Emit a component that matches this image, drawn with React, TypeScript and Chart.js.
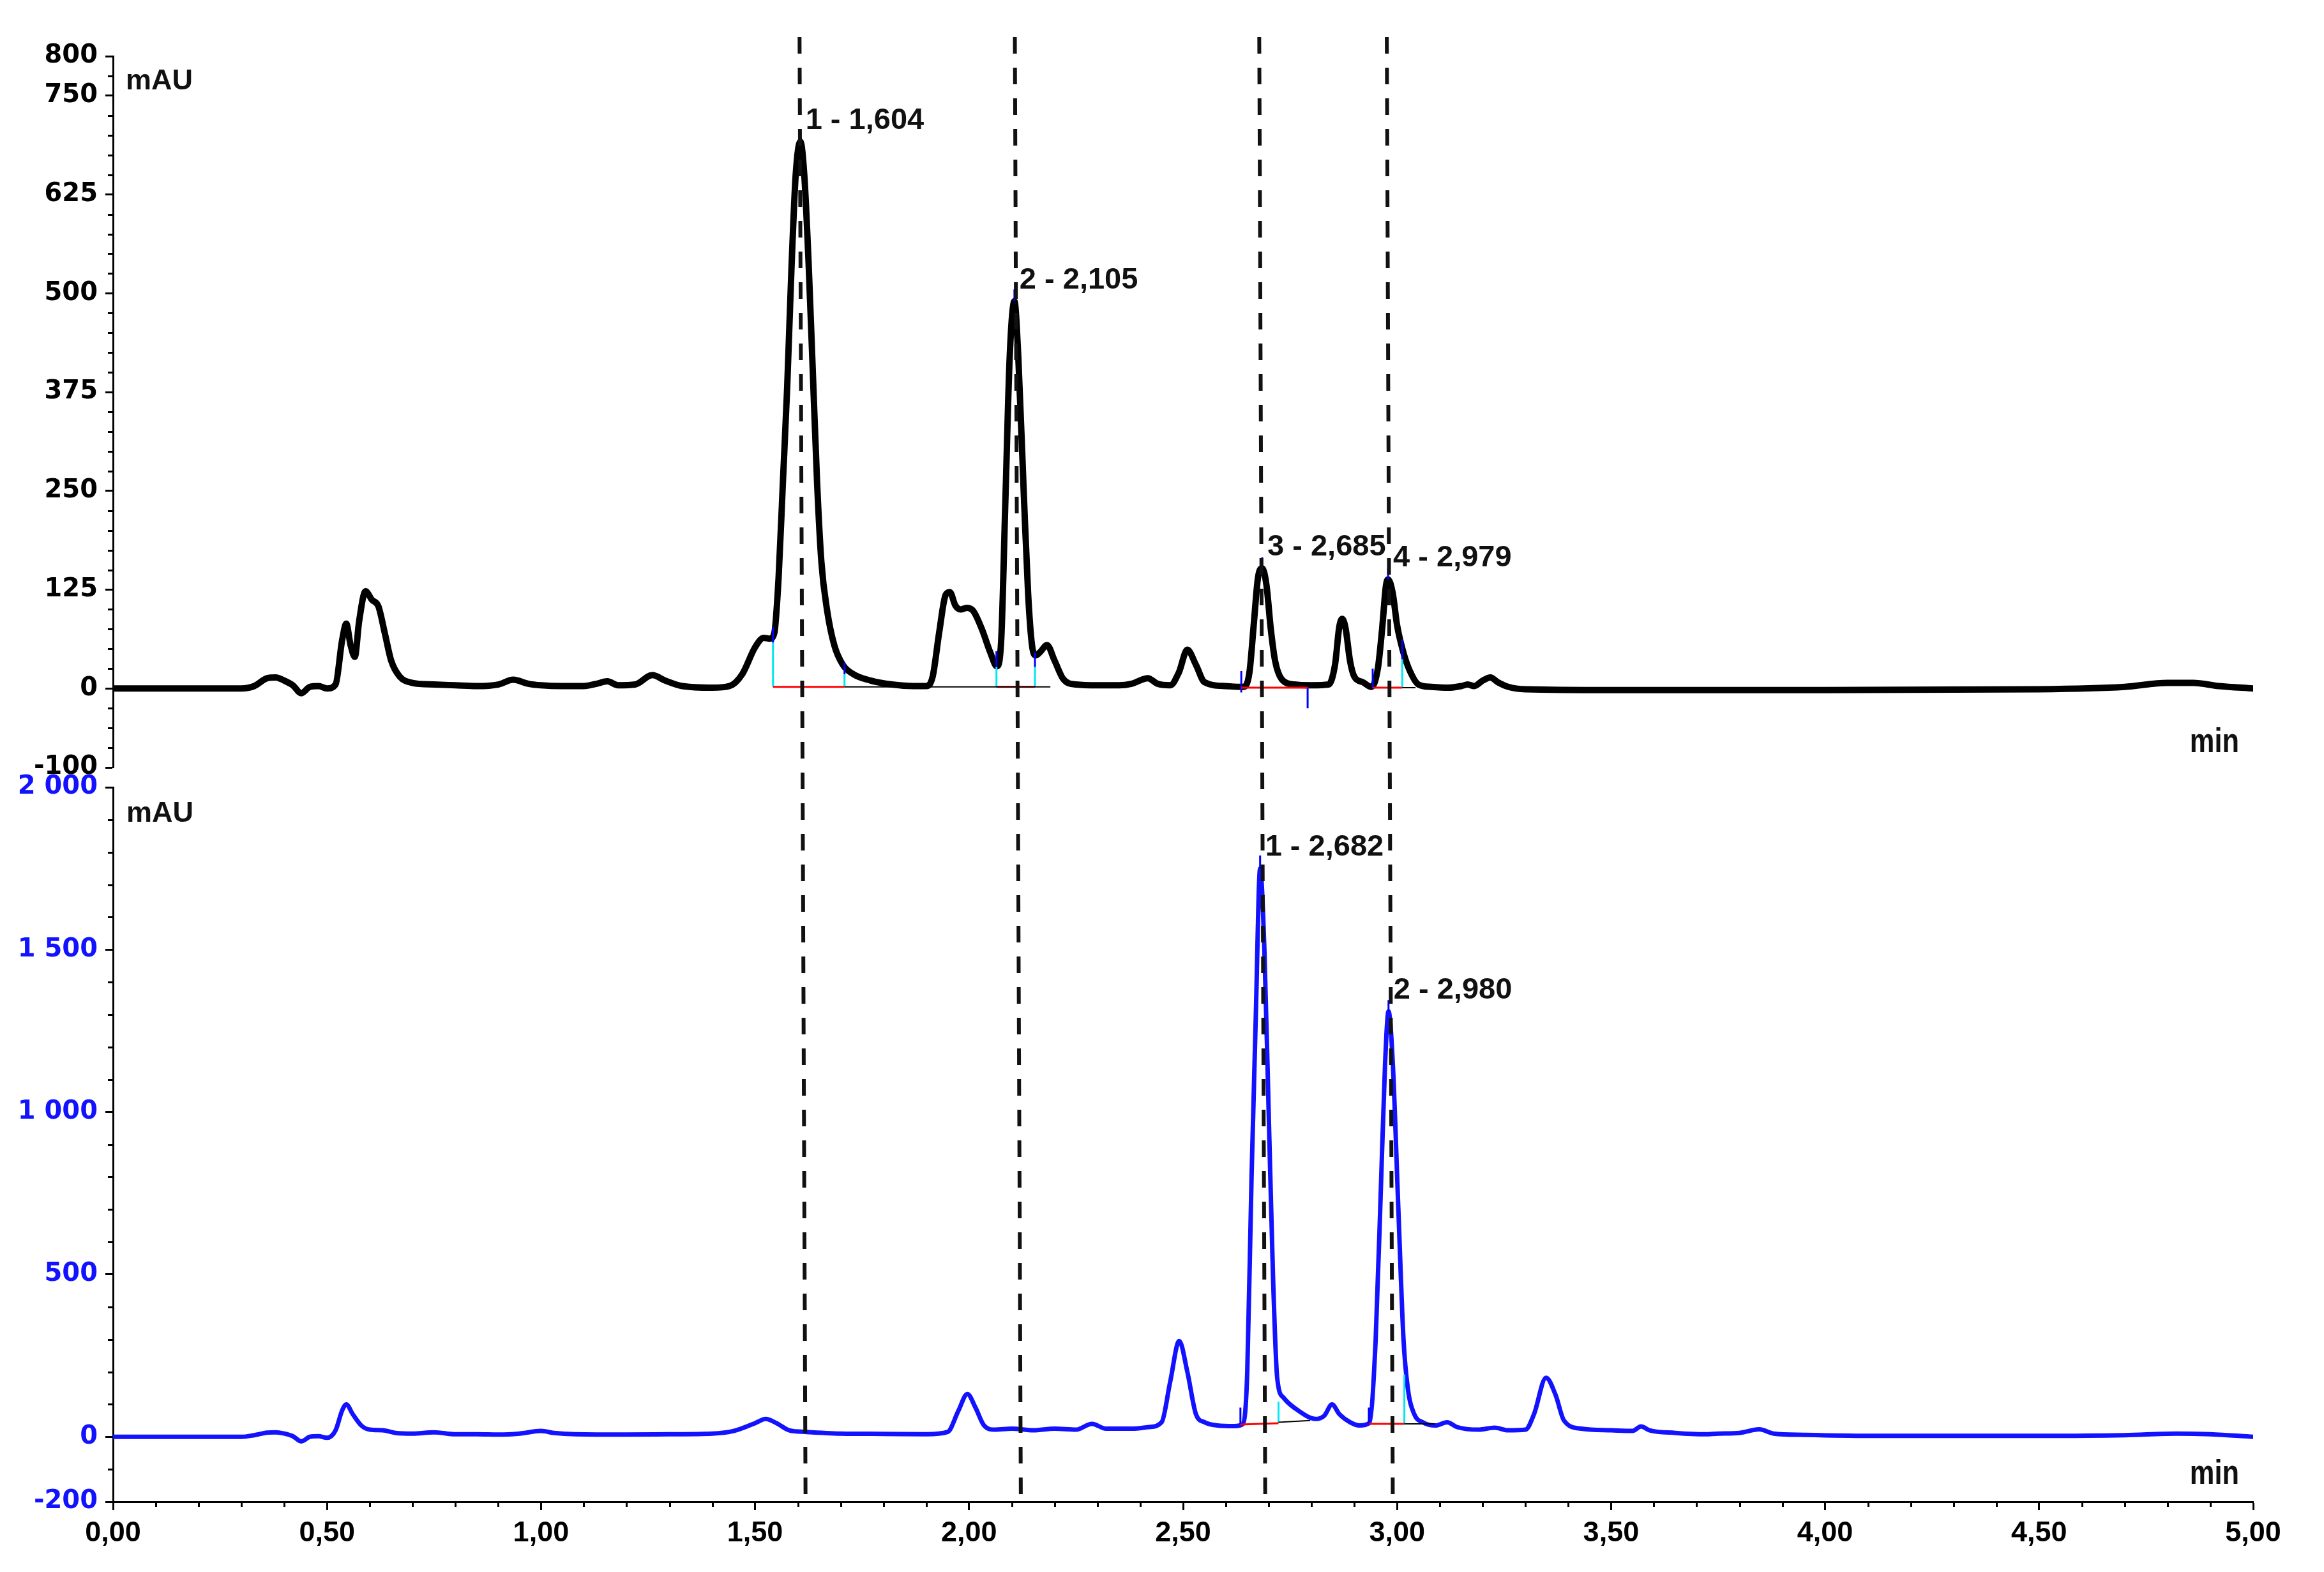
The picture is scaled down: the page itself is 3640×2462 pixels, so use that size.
import React, { useEffect, useRef } from 'react';
import { Chart, registerables } from 'chart.js';

Chart.register(...registerables);

// ---------- axes ----------
const xMin = 0;
const xMax = 5;
const xMajorTicks = [0, 0.5, 1, 1.5, 2, 2.5, 3, 3.5, 4, 4.5, 5];
const xMinorStep = 0.1;

const topMin = -100;
const topMax = 800;
const topTicks = [-100, 0, 125, 250, 375, 500, 625, 750, 800];
const topMinorStep = 25;

const botMin = -200;
const botMax = 2000;
const botTicks = [-200, 0, 500, 1000, 1500, 2000];
const botMinorStep = 100;

// ---------- top trace (black) ----------
const topTime = [
  0.0, 0.3, 0.33, 0.36, 0.38, 0.4, 0.42, 0.44, 0.46, 0.48, 0.5, 0.52, 0.535, 0.545, 0.555, 0.565, 0.575, 0.59,
  0.605, 0.62, 0.635, 0.65, 0.67, 0.7, 0.75, 0.8, 0.85, 0.9, 0.935, 0.97, 1.0, 1.05, 1.1, 1.13, 1.155, 1.18,
  1.22, 1.26, 1.29, 1.33, 1.4, 1.44, 1.47, 1.5, 1.52, 1.535, 1.545, 1.555, 1.565, 1.575, 1.585, 1.595, 1.606,
  1.615, 1.625, 1.635, 1.645, 1.655, 1.668, 1.685, 1.705, 1.73, 1.77, 1.82, 1.87, 1.9, 1.915, 1.93, 1.945,
  1.955, 1.968, 1.98, 1.995, 2.01, 2.03, 2.05, 2.065, 2.075, 2.085, 2.095, 2.106, 2.115, 2.128, 2.138, 2.147,
  2.156, 2.166, 2.182, 2.2, 2.22, 2.25, 2.3, 2.35, 2.38, 2.418, 2.44, 2.47, 2.49, 2.51, 2.53, 2.55, 2.6, 2.64,
  2.655, 2.665, 2.675, 2.685, 2.695, 2.705, 2.715, 2.73, 2.76, 2.8, 2.84, 2.855, 2.865, 2.872, 2.88, 2.89, 2.9,
  2.92, 2.94, 2.955, 2.965, 2.974, 2.979, 2.99, 3.0, 3.015, 3.03, 3.05, 3.08, 3.12, 3.15, 3.165, 3.18, 3.2,
  3.218, 3.235, 3.26, 3.3, 3.5, 4.0, 4.5, 4.7, 4.8, 4.86, 4.92, 5.0,
];
const topSignal = [
  0, 0, 3, 13, 14, 10, 4, -6, 2, 3, 0, 5, 60, 82, 55, 40, 85, 123,
  112, 104, 70, 35, 15, 7, 5, 4, 3, 5, 11, 6, 4, 3, 3, 6, 9, 4,
  5, 17, 10, 3, 1, 3, 18, 52, 64, 63, 70, 140, 260, 380, 530, 650, 692,
  650, 540, 400, 260, 160, 100, 55, 30, 18, 10, 5, 3, 3, 15, 70, 118,
  122, 105, 100, 102, 98, 75, 45, 28, 60, 240, 420, 490, 420, 245, 120, 55,
  42, 46, 55, 35, 12, 5, 4, 4, 6, 13, 6, 4, 20, 49, 30, 8, 3, 2,
  20, 80, 140, 152, 130, 75, 35, 12, 5, 4, 5, 30, 78, 88, 75, 35, 15,
  8, 2, 25, 75, 130, 138, 120, 80, 45, 22, 5, 2, 1, 3, 5, 3, 10,
  14, 8, 2, -1, -2, -2, -1, 2, 7, 7, 3, 0,
];

// ---------- bottom trace (blue) ----------
const botTime = [
  0.0, 0.3, 0.33, 0.36, 0.38, 0.4, 0.42, 0.44, 0.46, 0.48, 0.5, 0.52, 0.535, 0.545, 0.56, 0.58, 0.6, 0.63,
  0.66, 0.7, 0.75, 0.8, 0.85, 0.9, 0.95, 1.0, 1.03, 1.08, 1.2, 1.3, 1.4, 1.45, 1.5, 1.525, 1.55, 1.58, 1.62,
  1.7, 1.8, 1.9, 1.95, 1.975, 1.996, 2.015, 2.035, 2.06, 2.1, 2.15, 2.2, 2.25, 2.287, 2.32, 2.38, 2.42, 2.45,
  2.47, 2.491, 2.51, 2.53, 2.55, 2.58, 2.62, 2.64, 2.65, 2.66, 2.67, 2.68, 2.69, 2.7, 2.71, 2.72, 2.735, 2.77,
  2.81, 2.83, 2.848, 2.865, 2.89, 2.912, 2.935, 2.95, 2.963, 2.972, 2.98, 2.99, 3.003, 3.015, 3.025, 3.04,
  3.06, 3.09, 3.117, 3.14, 3.19, 3.228, 3.26, 3.3, 3.32, 3.348, 3.37, 3.39, 3.43, 3.5, 3.55, 3.57, 3.59, 3.65,
  3.72, 3.75, 3.8, 3.846, 3.88, 3.95, 4.1, 4.5, 4.7, 4.82, 4.9, 5.0,
];
const botSignal = [
  0, 0, 5, 13, 14, 10, 2, -14, 0, 2, -3, 20, 80, 100, 70, 35, 22, 20,
  12, 10, 14, 8, 8, 7, 10, 18, 12, 8, 7, 8, 10, 18, 42, 55, 42, 20, 15,
  10, 9, 8, 15, 80, 132, 90, 35, 22, 25, 20, 25, 22, 40, 25, 25, 30, 45,
  170, 295, 200, 70, 45, 35, 33, 40, 200, 800, 1300, 1750, 1500, 1000, 500, 180, 120, 80,
  55, 65, 100, 70, 45, 35, 42, 300, 800, 1150, 1310, 1150, 700, 300, 150, 70,
  45, 35, 45, 30, 22, 28, 20, 22, 70, 182, 130, 50, 25, 20, 18, 32, 20, 12,
  8, 10, 12, 23, 10, 6, 3, 3, 5, 10, 8, 0,
];

// ---------- peak annotations ----------
const topPeakTime = [1.606, 2.106, 2.685, 2.979];
const topPeakHeight = [692, 490, 152, 138];
const topPeakLabels = ['1 - 1,604', '2 - 2,105', '3 - 2,685', '4 - 2,979'];
const botPeakTime = [2.68, 2.98];
const botPeakHeight = [1750, 1310];
const botPeakLabels = ['1 - 2,682', '2 - 2,980'];

// dashed retention-time markers: x at the top of the figure and at the x axis
const dashTopTime = [1.604, 2.107, 2.678, 2.976];
const dashBottomTime = [1.618, 2.121, 2.692, 2.99];

// integration marks: [x0, y0, x1, y1]
const topBaseBlack = [[1.709, 2, 2.19, 2], [3.012, 1, 3.043, 1]];
const topBaseRed = [[1.542, 2, 1.709, 2], [2.064, 2, 2.154, 2], [2.636, 1, 2.791, 1], [2.943, 1, 3.012, 1]];
const topCyan = [[1.542, 2, 1.542, 58], [1.709, 2, 1.709, 18], [2.064, 2, 2.064, 27], [2.154, 2, 2.154, 27], [3.012, 1, 3.012, 37]];
const topBlue = [
  [1.542, 58, 1.542, 78], [1.709, 18, 1.709, 33], [2.064, 27, 2.064, 47], [2.154, 27, 2.154, 45],
  [2.636, -5, 2.636, 22], [2.791, 2, 2.791, -25], [2.943, 0, 2.943, 25], [3.012, 37, 3.012, 62],
  [1.606, 692, 1.606, 708], [2.106, 490, 2.106, 505], [2.685, 152, 2.685, 166], [2.979, 138, 2.979, 153],
];
const botBaseBlack = [[2.723, 45, 2.797, 50], [3.017, 40, 3.088, 40]];
const botBaseRed = [[2.634, 38, 2.723, 42], [2.934, 40, 3.017, 40]];
const botCyan = [[2.723, 45, 2.723, 108], [3.017, 40, 3.017, 192]];
const botBlue = [[2.634, 40, 2.634, 90], [2.934, 40, 2.934, 90], [2.68, 1750, 2.68, 1790], [2.98, 1310, 2.98, 1345]];

const TEXT_FONT = '"Liberation Sans", Arial, Helvetica, sans-serif';
const TICK_FONT_Y = '"DejaVu Sans", Verdana, sans-serif';
const BLUE = '#1212ff';

function segData(segs: number[][]) {
  const out: { x: number; y: number | null }[] = [];
  segs.forEach((s) => {
    out.push({ x: s[0], y: s[1] });
    out.push({ x: s[2], y: s[3] });
    out.push({ x: s[2], y: null });
  });
  return out;
}

function fmtThousands(v: number) {
  const s = String(Math.abs(v)).replace(/\B(?=(\d{3})+(?!\d))/g, ' ');
  return v < 0 ? '-' + s : s;
}

const overlayPlugin = {
  id: 'overlay',
  afterDraw(chart: any) {
    const { ctx, chartArea, scales } = chart;
    const xs = scales.x;
    const yT = scales.yTop;
    const yB = scales.yBot;
    ctx.save();

    // minor ticks
    ctx.strokeStyle = '#000';
    ctx.lineWidth = 3;
    ctx.beginPath();
    const nx = Math.round((xMax - xMin) / xMinorStep);
    for (let k = 0; k <= nx; k++) {
      const v = xMin + k * xMinorStep;
      if (xMajorTicks.some((m) => Math.abs(m - v) < 1e-6)) continue;
      const px = Math.round(xs.getPixelForValue(v)) + 0.5;
      ctx.moveTo(px, chartArea.bottom);
      ctx.lineTo(px, chartArea.bottom + 8);
    }
    for (let v = topMin; v <= topMax; v += topMinorStep) {
      if (topTicks.includes(v)) continue;
      const py = Math.round(yT.getPixelForValue(v)) + 0.5;
      ctx.moveTo(yT.right - 8, py);
      ctx.lineTo(yT.right, py);
    }
    for (let v = botMin; v <= botMax; v += botMinorStep) {
      if (botTicks.includes(v)) continue;
      const py = Math.round(yB.getPixelForValue(v)) + 0.5;
      ctx.moveTo(yB.right - 8, py);
      ctx.lineTo(yB.right, py);
    }
    ctx.stroke();

    // dashed markers
    ctx.setLineDash([26, 22]);
    ctx.lineWidth = 6;
    ctx.strokeStyle = '#111';
    dashTopTime.forEach((t, i) => {
      ctx.beginPath();
      ctx.moveTo(xs.getPixelForValue(t), chartArea.top - 30);
      ctx.lineTo(xs.getPixelForValue(dashBottomTime[i]), chartArea.bottom);
      ctx.stroke();
    });
    ctx.setLineDash([]);

    // peak labels
    ctx.fillStyle = '#111';
    ctx.font = 'bold 47px ' + TEXT_FONT;
    ctx.textAlign = 'left';
    ctx.textBaseline = 'middle';
    topPeakTime.forEach((t, i) => {
      ctx.fillText(topPeakLabels[i], xs.getPixelForValue(t) + 8, yT.getPixelForValue(topPeakHeight[i]) - 33);
    });
    botPeakTime.forEach((t, i) => {
      ctx.fillText(botPeakLabels[i], xs.getPixelForValue(t) + 8, yB.getPixelForValue(botPeakHeight[i]) - 33);
    });

    // unit labels
    ctx.textBaseline = 'alphabetic';
    ctx.font = 'bold 45px ' + TEXT_FONT;
    ctx.fillText('mAU', chartArea.left + 20, yT.top + 52);
    ctx.fillText('mAU', chartArea.left + 21, yB.top + 54);

    ctx.font = 'bold 53px ' + TEXT_FONT;
    ctx.textAlign = 'right';
    [
      [chartArea.right - 22, yT.bottom - 24],
      [chartArea.right - 22, yB.bottom - 28],
    ].forEach(([rx, by]) => {
      ctx.save();
      ctx.translate(rx, by);
      ctx.scale(0.82, 1);
      ctx.fillText('min', 0, 0);
      ctx.restore();
    });

    ctx.restore();
  },
};

export default function App() {
  const canvasRef = useRef<HTMLCanvasElement | null>(null);

  useEffect(() => {
    if (!canvasRef.current) return;

    const markDs = (segs: number[][], axis: string, color: string, width: number) => ({
      type: 'line' as const,
      data: segData(segs),
      yAxisID: axis,
      borderColor: color,
      borderWidth: width,
      pointRadius: 0,
      spanGaps: false,
      tension: 0,
      order: 0,
    });

    const chart = new Chart(canvasRef.current, {
      type: 'line',
      data: {
        datasets: [
          {
            data: topTime.map((t, i) => ({ x: t, y: topSignal[i] })),
            yAxisID: 'yTop',
            borderColor: '#000',
            borderWidth: 10,
            pointRadius: 0,
            cubicInterpolationMode: 'monotone',
            borderJoinStyle: 'round',
            borderCapStyle: 'round',
            order: 10,
          },
          {
            data: botTime.map((t, i) => ({ x: t, y: botSignal[i] })),
            yAxisID: 'yBot',
            borderColor: BLUE,
            borderWidth: 7,
            pointRadius: 0,
            cubicInterpolationMode: 'monotone',
            borderJoinStyle: 'round',
            borderCapStyle: 'round',
            order: 10,
          },
          markDs(topBaseBlack, 'yTop', '#000', 2),
          markDs(topBaseRed, 'yTop', '#ff0000', 3),
          markDs(topCyan, 'yTop', '#00e8f0', 3),
          markDs(topBlue, 'yTop', '#0000ff', 3),
          markDs(botBaseBlack, 'yBot', '#000', 2),
          markDs(botBaseRed, 'yBot', '#ff0000', 3),
          markDs(botCyan, 'yBot', '#00e8f0', 3),
          markDs(botBlue, 'yBot', '#0000ff', 3),
        ] as any,
      },
      options: {
        animation: false,
        responsive: false,
        devicePixelRatio: 1,
        events: [],
        layout: { padding: { top: 88, right: 111, bottom: 0, left: 0 } },
        plugins: { legend: { display: false }, tooltip: { enabled: false }, title: { display: false } },
        scales: {
          x: {
            type: 'linear',
            position: 'bottom',
            min: xMin,
            max: xMax,
            afterFit: (s: any) => {
              s.height = 110;
            },
            afterBuildTicks: (s: any) => {
              s.ticks = xMajorTicks.map((v) => ({ value: v }));
            },
            grid: { drawOnChartArea: false, drawTicks: true, tickLength: 13, tickWidth: 3, tickColor: '#000' },
            border: { display: true, color: '#000', width: 3 },
            ticks: {
              autoSkip: false,
              maxRotation: 0,
              padding: 10,
              color: '#000',
              font: { family: TEXT_FONT, weight: 'bold', size: 45 },
              callback: (v: any) => Number(v).toFixed(2).replace('.', ','),
            },
          },
          yTop: {
            type: 'linear',
            position: 'left',
            stack: 'panels',
            stackWeight: 1114,
            weight: 3,
            min: topMin,
            max: topMax,
            afterFit: (s: any) => {
              s.width = 177;
            },
            afterBuildTicks: (s: any) => {
              s.ticks = topTicks.map((v) => ({ value: v }));
            },
            grid: { drawOnChartArea: false, drawTicks: true, tickLength: 12, tickWidth: 3, tickColor: '#000' },
            border: { display: true, color: '#000', width: 3 },
            ticks: {
              autoSkip: false,
              padding: 12,
              color: '#000',
              font: { family: TICK_FONT_Y, weight: 'bold', size: 40 },
              callback: (v: any) => String(v),
            },
          },
          yGap: {
            type: 'linear',
            position: 'left',
            stack: 'panels',
            stackWeight: 31,
            weight: 2,
            display: false,
          },
          yBot: {
            type: 'linear',
            position: 'left',
            stack: 'panels',
            stackWeight: 1119,
            weight: 1,
            min: botMin,
            max: botMax,
            afterFit: (s: any) => {
              s.width = 177;
            },
            afterBuildTicks: (s: any) => {
              s.ticks = botTicks.map((v) => ({ value: v }));
            },
            grid: { drawOnChartArea: false, drawTicks: true, tickLength: 12, tickWidth: 3, tickColor: '#000' },
            border: { display: true, color: '#000', width: 3 },
            ticks: {
              autoSkip: false,
              padding: 12,
              color: BLUE,
              font: { family: TICK_FONT_Y, weight: 'bold', size: 40 },
              callback: (v: any) => fmtThousands(Number(v)),
            },
          },
        } as any,
      },
      plugins: [overlayPlugin],
    });

    return () => {
      chart.destroy();
    };
  }, []);

  return (
    <div style={{ position: 'absolute', left: 0, top: 0, width: 3640, height: 2462, background: '#fff' }}>
      <canvas ref={canvasRef} width={3640} height={2462} style={{ display: 'block' }} />
    </div>
  );
}
